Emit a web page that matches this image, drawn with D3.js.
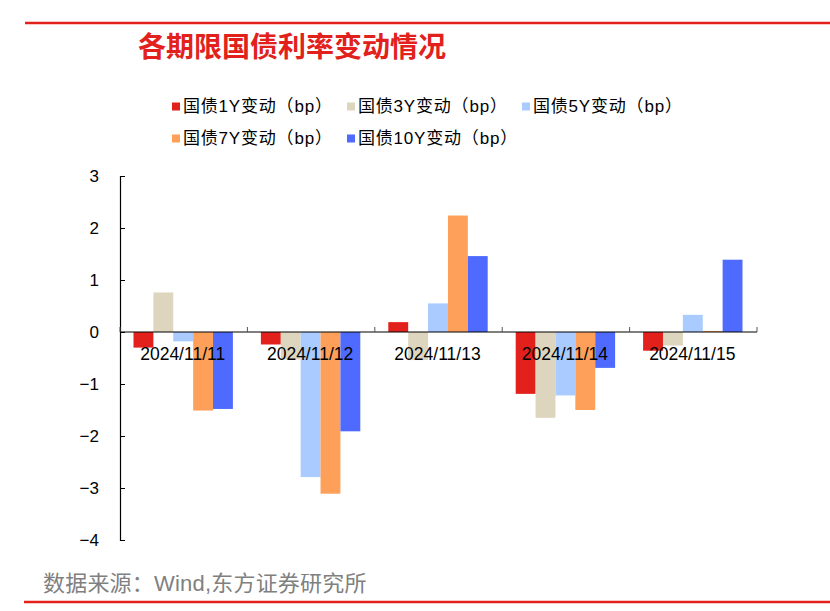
<!DOCTYPE html>
<html><head><meta charset="utf-8">
<script src="https://cdn.jsdelivr.net/npm/d3@7"></script>
<style>body{margin:0;background:#fff}</style>
</head><body>
<script>
const categories = ["2024/11/11","2024/11/12","2024/11/13","2024/11/14","2024/11/15"];
const seriesNames = ["国债1Y变动（bp）","国债3Y变动（bp）","国债5Y变动（bp）","国债7Y变动（bp）","国债10Y变动（bp）"];
const s1Y = [-0.30, -0.24, 0.19, -1.19, -0.36];
const s3Y = [0.76, -0.53, -0.54, -1.65, -0.26];
const s5Y = [-0.18, -2.79, 0.55, -1.22, 0.33];
const s7Y = [-1.51, -3.11, 2.24, -1.50, 0.02];
const s10Y = [-1.48, -1.91, 1.46, -0.69, 1.39];
const colors = ["#E2211C","#DDD5BE","#A9CBFF","#FFA05A","#4F6BFF"];
const yTicks = [3,2,1,0,-1,-2,-3,-4];
const seriesValues = [s1Y, s3Y, s5Y, s7Y, s10Y];

const W=830, H=611;
const mixFont = "Arial, 'Liberation Sans', 'Noto Sans CJK SC', sans-serif";
const svg = d3.select("body").append("svg").attr("width",W).attr("height",H)
  .style("font-family",mixFont);

svg.append("line").attr("x1",25).attr("x2",830).attr("y1",23).attr("y2",23).attr("stroke","#E2211C").attr("stroke-width",2.5);
svg.append("line").attr("x1",24).attr("x2",830).attr("y1",602).attr("y2",602).attr("stroke","#E2211C").attr("stroke-width",2.5);

svg.append("text").attr("x",138).attr("y",57).text("各期限国债利率变动情况")
  .attr("fill","#E2211C").attr("font-size",28).attr("font-weight","bold")
  .style("font-family","'Noto Sans CJK SC', sans-serif");

svg.append("text").attr("x",43).attr("y",591).text("数据来源：Wind,东方证券研究所")
  .attr("fill","#808080").attr("font-size",22).attr("letter-spacing",0.2)
  .style("font-family",mixFont);

// legend
const legPos = [[172,106],[347,106],[522,106],[172,138],[347,138]];
seriesNames.forEach((n,i)=>{
  const g = svg.append("g").attr("transform",`translate(${legPos[i][0]},${legPos[i][1]})`);
  g.append("rect").attr("x",0).attr("y",-3.5).attr("width",8).attr("height",8).attr("fill",colors[i]);
  g.append("text").attr("x",11).attr("y",0).attr("dy","0.35em").text(n)
   .attr("font-size",17).attr("fill","#000").attr("letter-spacing",0.8)
   .style("font-family",mixFont);
});

const x0 = d3.scaleBand().domain(categories).range([120,757]).paddingInner(0).paddingOuter(0);
const x1 = d3.scaleBand().domain(d3.range(5)).range([13.5, x0.bandwidth()-14.5]).padding(0);
const y = d3.scaleLinear().domain([-4,3]).range([540,176]);

// bars
categories.forEach((c,ci)=>{
  seriesValues.forEach((vals,si)=>{
    const v = vals[ci];
    svg.append("rect")
      .attr("x", x0(c)+x1(si))
      .attr("width", x1.bandwidth())
      .attr("y", y(Math.max(0,v)))
      .attr("height", Math.abs(y(v)-y(0)))
      .attr("fill", colors[si]);
  });
});

// y axis
const yAxis = svg.append("g").attr("transform","translate(120,0)")
  .call(d3.axisLeft(y).tickValues(yTicks).tickSize(-5).tickPadding(21).tickFormat(d3.format("d")));
yAxis.select(".domain").attr("stroke","#000").attr("stroke-width",1.2);
yAxis.selectAll(".tick line").attr("stroke","#000");
yAxis.selectAll(".tick text").attr("font-size",17).attr("fill","#000")
  .style("font-family","Arial, 'Liberation Sans', sans-serif");

// x axis line with ticks pointing up
const xg = svg.append("g").attr("transform",`translate(0,${y(0)})`);
xg.append("line").attr("x1",120).attr("x2",757).attr("y1",0).attr("y2",0).attr("stroke","#000").attr("stroke-width",1.2);
const bounds = categories.map(c=>x0(c)).concat([x0(categories[categories.length-1])+x0.bandwidth()]);
bounds.forEach(b=>{
  xg.append("line").attr("x1",b).attr("x2",b).attr("y1",-5).attr("y2",0).attr("stroke","#555");
});
categories.forEach(c=>{
  xg.append("text").attr("x",x0(c)+x0.bandwidth()/2-1).attr("y",27.5).attr("text-anchor","middle")
    .text(c).attr("font-size",17.5).attr("fill","#000")
    .style("font-family","Arial, 'Liberation Sans', sans-serif");
});
</script>
</body></html>
